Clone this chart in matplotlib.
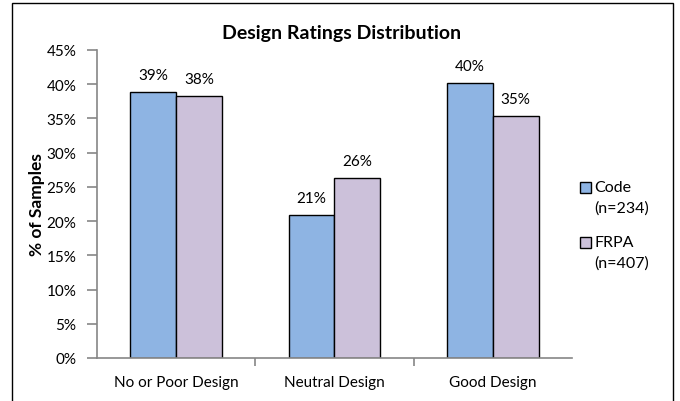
import matplotlib
matplotlib.use("Agg")
import matplotlib.pyplot as plt
import numpy as np
from matplotlib.patches import Rectangle

categories = ["No or Poor Design", "Neutral Design", "Good Design"]
code_vals = [38.9, 20.9, 40.2]
frpa_vals = [38.3, 26.3, 35.4]
series_names = ["Code", "FRPA"]
series_n = ["(n=234)", "(n=407)"]
yticks = [0, 5, 10, 15, 20, 25, 30, 35, 40, 45]

plt.rcParams['font.family'] = ['Lato', 'DejaVu Sans']

W, H = 680, 402
fig = plt.figure(figsize=(6.8, 4.02), dpi=100)
ax = fig.add_axes([97/W, 1 - 359/H, 475/W, (359 - 51)/H])

x = np.arange(len(categories))
w = 0.29
colors = ["#8EB4E3", "#CCC1DA"]
b1 = ax.bar(x - w/2, code_vals, w, color=colors[0], edgecolor="black", linewidth=1.0)
b2 = ax.bar(x + w/2, frpa_vals, w, color=colors[1], edgecolor="black", linewidth=1.0)

for bars, vals in ((b1, code_vals), (b2, frpa_vals)):
    for r, v in zip(bars, vals):
        ax.text(r.get_x() + r.get_width()/2, v + 1.4, f"{round(v):d}%", ha="center", va="bottom", fontsize=11)

ax.set_xlim(-0.5, 2.5)
ax.set_ylim(0, 45)
ax.set_yticks(yticks)
ax.set_yticklabels([f"{t}%" for t in yticks], fontsize=11)
ax.set_xticks([0.5, 1.5], minor=False)
ax.set_xticklabels(["", ""])
ax.set_xticks(x, minor=True)
ax.set_xticklabels(categories, minor=True, fontsize=11)
ax.tick_params(axis="x", which="minor", length=0, pad=12)
ax.tick_params(axis="x", which="major", length=6, color="#868686", width=1.2, direction="out")
ax.tick_params(axis="y", length=7, color="#868686", width=1.2, direction="out", pad=8)
for s in ("top", "right"):
    ax.spines[s].set_visible(False)
for s in ("left", "bottom"):
    ax.spines[s].set_color("#868686")
    ax.spines[s].set_linewidth(1.2)

ax.set_ylabel("% of Samples", fontsize=12.5, fontweight="bold", labelpad=1)
fig.text(342/W, 1 - 34/H, "Design Ratings Distribution", ha="center", va="center", fontsize=14, fontweight="bold")

# legend
leg_y = [188, 243]
for col, name, n, yy in zip(colors, series_names, series_n, leg_y):
    fig.patches.append(Rectangle((580/W, 1 - (yy + 5.5)/H), 11/W, 11/H, transform=fig.transFigure,
                                 facecolor=col, edgecolor="black", linewidth=1.0))
    fig.text(594/W, 1 - yy/H, name, ha="left", va="center", fontsize=11.5)
    fig.text(594/W, 1 - (yy + 21)/H, n, ha="left", va="center", fontsize=11.5)

fig.patches.append(Rectangle((12/W, -0.01), (673 - 12)/W, 1 - 4/H + 0.01, transform=fig.transFigure,
                             fill=False, edgecolor="black", linewidth=1.0))

fig.savefig("out.png", dpi=100)
